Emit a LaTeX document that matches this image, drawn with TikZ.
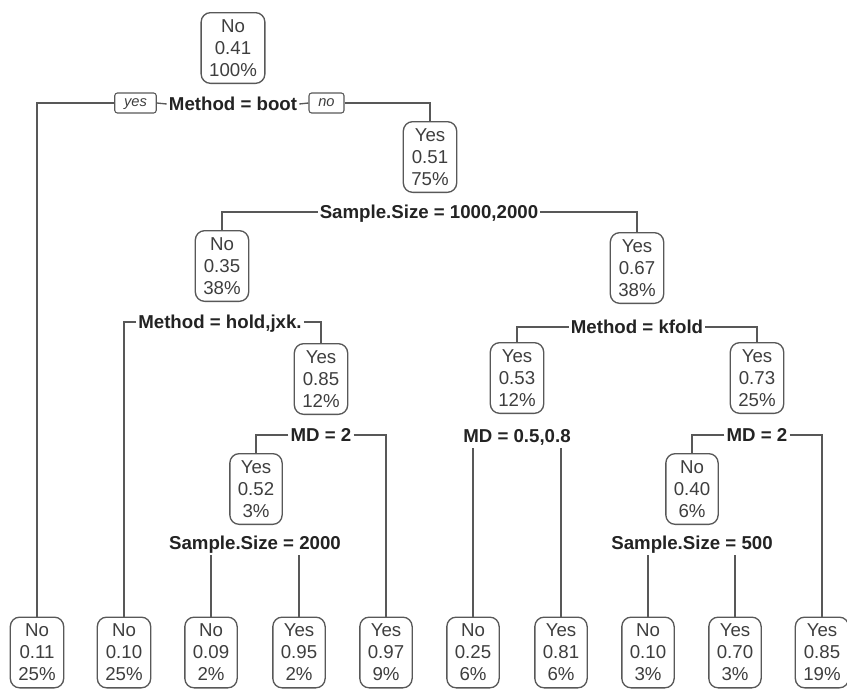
\documentclass[tikz,border=0pt]{standalone}
\usepackage{fontspec}
\setmainfont{Liberation Sans}
\usetikzlibrary{calc}
\definecolor{treeLine}{RGB}{88,88,88}
\definecolor{treeText}{RGB}{62,62,62}
\definecolor{splitText}{RGB}{35,35,35}

\begin{document}
\begin{tikzpicture}[x=0.75pt,y=-0.75pt,
  leafbox/.style={draw=treeLine,line width=1pt,rounded corners=7pt,text=treeText,align=center,font=\fontsize{14}{16.5}\selectfont,inner xsep=6pt,minimum height=53pt},
  splitlab/.style={text=splitText,font=\bfseries\fontsize{14}{16.5}\selectfont,inner xsep=1.5pt,inner ysep=4pt,text height=10pt,text depth=0pt},
  dirbox/.style={draw=treeLine,line width=0.8pt,rounded corners=2pt,text=treeText,font=\itshape\fontsize{11}{12}\selectfont,inner xsep=7pt,inner ysep=2.5pt,text height=7.5pt,text depth=2.5pt},
  branch/.style={draw=treeLine,line width=1pt}]
\path[use as bounding box] (0,0) rectangle (847,689);

% inner nodes and split labels
\node[leafbox] (root) at (233,48) {No\\0.41\\100\%};
\node[splitlab] (s1) at (233,104) {Method = boot};
\node[dirbox] (yes) at (135.5,103) {yes};
\node[dirbox] (no) at (326.5,103) {no};

\node[leafbox] (n2) at (430,157) {Yes\\0.51\\75\%};
\node[splitlab] (s2) at (429,212) {Sample.Size = 1000,2000};

\node[leafbox] (n3) at (222,266) {No\\0.35\\38\%};
\node[splitlab] (s3) at (220,322) {Method = hold,jxk.};
\node[leafbox] (n4) at (637,268) {Yes\\0.67\\38\%};
\node[splitlab] (s6) at (637,327) {Method = kfold};

\node[leafbox] (n5) at (321,379) {Yes\\0.85\\12\%};
\node[splitlab] (s4) at (321,435) {MD = 2};
\node[leafbox] (n6) at (256,489) {Yes\\0.52\\3\%};
\node[splitlab] (s5) at (255,543) {Sample.Size = 2000};

\node[leafbox] (n7) at (517,378) {Yes\\0.53\\12\%};
\node[splitlab] (s7) at (517,436) {MD = 0.5,0.8};
\node[leafbox] (n8) at (757,378) {Yes\\0.73\\25\%};
\node[splitlab] (s8) at (757,435) {MD = 2};
\node[leafbox] (n9) at (692,489) {No\\0.40\\6\%};
\node[splitlab] (s9) at (692,543) {Sample.Size = 500};

% leaves
\node[leafbox] (l1) at (37,652.5) {No\\0.11\\25\%};
\node[leafbox] (l2) at (124,652.5) {No\\0.10\\25\%};
\node[leafbox] (l3) at (211,652.5) {No\\0.09\\2\%};
\node[leafbox] (l4) at (299,652.5) {Yes\\0.95\\2\%};
\node[leafbox] (l5) at (386,652.5) {Yes\\0.97\\9\%};
\node[leafbox] (l6) at (473,652.5) {No\\0.25\\6\%};
\node[leafbox] (l7) at (561,652.5) {Yes\\0.81\\6\%};
\node[leafbox] (l8) at (648,652.5) {No\\0.10\\3\%};
\node[leafbox] (l9) at (735,652.5) {Yes\\0.70\\3\%};
\node[leafbox] (l10) at (822,652.5) {Yes\\0.85\\19\%};

% branches
\draw[branch] (s1.west) -- (yes.east);
\draw[branch] (yes.west) -| (l1.north);
\draw[branch] (s1.east) -- (no.west);
\draw[branch] (no.east) -| (n2.north);
\draw[branch] (s2.west) -| (n3.north);
\draw[branch] (s2.east) -| (n4.north);
\draw[branch] (s3.west) -| (l2.north);
\draw[branch] (s3.east) -| (n5.north);
\draw[branch] (s4.west) -| (n6.north);
\draw[branch] (s4.east) -| (l5.north);
\draw[branch] (s5.south -| l3.north) -- (l3.north);
\draw[branch] (s5.south -| l4.north) -- (l4.north);
\draw[branch] (s6.west) -| (n7.north);
\draw[branch] (s6.east) -| (n8.north);
\draw[branch] (s7.south -| l6.north) -- (l6.north);
\draw[branch] (s7.south -| l7.north) -- (l7.north);
\draw[branch] (s8.west) -| (n9.north);
\draw[branch] (s8.east) -| (l10.north);
\draw[branch] (s9.south -| l8.north) -- (l8.north);
\draw[branch] (s9.south -| l9.north) -- (l9.north);
\end{tikzpicture}
\end{document}
